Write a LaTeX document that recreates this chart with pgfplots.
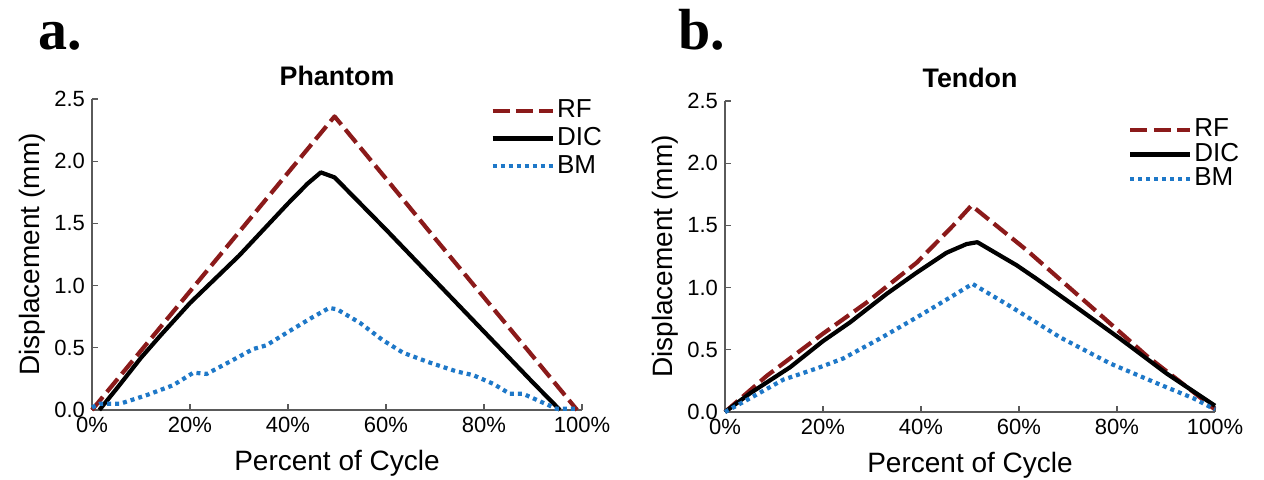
\documentclass[border=0pt]{standalone}
\usepackage{fontspec}
\setmainfont{Liberation Sans}
\newfontfamily\panelfont{Liberation Serif}
\usepackage{pgfplots}
\pgfplotsset{compat=1.18}

\definecolor{rfred}{RGB}{139,26,26}
\definecolor{bmblue}{RGB}{30,120,200}
\definecolor{axgray}{RGB}{90,90,90}

\pgfplotsset{
  disp/.style={
    scale only axis, width=245pt, height=155.5pt,
    xmin=0, xmax=100, ymin=0, ymax=2.5,
    axis x line=bottom, axis y line=left,
    axis line style={-, axgray, line width=0.6pt},
    tick align=inside, major tick length=3pt,
    tick style={axgray, line width=0.6pt},
    xtick={0,20,40,60,80,100},
    xticklabels={0\%,20\%,40\%,60\%,80\%,100\%},
    ytick={0,0.5,1,1.5,2,2.5},
    yticklabel style={/pgf/number format/.cd, fixed, fixed zerofill, precision=1},
    /pgf/number format/assume math mode=true,
    ticklabel style={font=\fontsize{11}{13}\selectfont},
    xlabel={Percent of Cycle}, ylabel={Displacement (mm)},
    label style={font=\fontsize{14}{16}\selectfont},
    xlabel style={at={(axis description cs:0.5,-0.17)}, anchor=center},
    ylabel style={at={(axis description cs:-0.122,0.5)}, anchor=center},
    title style={at={(axis description cs:0.5,1.035)}, anchor=center,
      font=\bfseries\fontsize{13.4}{15}\selectfont},
    clip=false,
    legend cell align=left,
    legend style={draw=none, fill=none, font=\fontsize{13}{15}\selectfont},
    legend image code/.code={\draw[#1] (0pt,0pt) -- (30pt,0pt);},
  },
  rf/.style={rfred, line width=2.1pt, line join=round, dash pattern=on 8.5pt off 3.2pt},
  dic/.style={black, line width=2.1pt, line join=round},
  bm/.style={bmblue, line width=2.1pt, dash pattern=on 2pt off 2pt},
}

\begin{document}
\begin{tikzpicture}
\useasboundingbox (0,0) rectangle (632pt,-240pt);

\node[font=\panelfont\bfseries\fontsize{29}{30}\selectfont, anchor=base west, inner sep=0] at (19pt,-25pt) {a.};
\node[font=\panelfont\bfseries\fontsize{29}{30}\selectfont, anchor=base west, inner sep=0] at (339pt,-25pt) {b.};

% Phantom
\begin{axis}[disp, at={(46pt,-205pt)}, anchor=south west, title={Phantom},
  legend style={at={(axis description cs:0.80,1.02)}, anchor=north west,
    nodes={text height=9.2pt, text depth=2.2pt, inner sep=1.2pt}}]
\addplot[rf] coordinates {(0,0) (10,0.477) (20,0.954) (30,1.43) (40,1.907) (49.5,2.36) (60,1.86) (70,1.38) (80,0.905) (90,0.43) (99,0)};
\addlegendentry{RF}
\addplot[dic] coordinates {(1.5,0) (5,0.17) (10,0.42) (14,0.60) (20,0.86) (25,1.05) (30,1.24) (35,1.45) (40,1.66) (44,1.82) (46.7,1.91) (49.5,1.87) (60,1.45) (70,1.04) (80,0.63) (90,0.22) (95.5,0)};
\addlegendentry{DIC}
\addplot[bm] coordinates {(0,0.02) (1.6,0.05) (5.7,0.05) (11.2,0.12) (16.6,0.20) (20.7,0.30) (23.4,0.29) (28.2,0.39) (32.9,0.49) (35.6,0.52) (39.7,0.62) (45.2,0.75) (48.4,0.82) (50,0.81) (54.7,0.70) (59.4,0.56) (63.5,0.46) (69,0.38) (74.4,0.31) (77.8,0.28) (81.9,0.21) (85.3,0.13) (88,0.13) (91.4,0.07) (94.8,0.01) (99,0.01)};
\addlegendentry{BM}
\end{axis}

% Tendon
\begin{axis}[disp, at={(362.5pt,-206pt)}, anchor=south west, title={Tendon},
  legend style={at={(axis description cs:0.81,0.96)}, anchor=north west,
    nodes={text height=8.6pt, text depth=1.8pt, inner sep=0.9pt}}]
\addplot[rf] coordinates {(0,0) (8.5,0.29) (20,0.63) (28.9,0.88) (39.1,1.2) (46.6,1.50) (50.3,1.66) (61.6,1.30) (75.2,0.83) (86.1,0.45) (95.6,0.16) (100,0.02)};
\addlegendentry{RF}
\addplot[dic] coordinates {(0,0) (5.1,0.15) (13.3,0.36) (20,0.57) (25.5,0.72) (33,0.95) (39.1,1.12) (45.2,1.28) (49.3,1.35) (51.5,1.365) (59.5,1.18) (63.6,1.07) (71.8,0.84) (80.6,0.59) (90.1,0.31) (100,0.05)};
\addlegendentry{DIC}
\addplot[bm] coordinates {(0,0) (5.1,0.11) (11.9,0.26) (18.7,0.35) (24.1,0.43) (31.6,0.59) (39.1,0.76) (45.9,0.92) (50.5,1.03) (58.2,0.85) (68.4,0.60) (78.6,0.39) (88.8,0.22) (95.6,0.11) (100,0.02)};
\addlegendentry{BM}
\end{axis}
\end{tikzpicture}
\end{document}
